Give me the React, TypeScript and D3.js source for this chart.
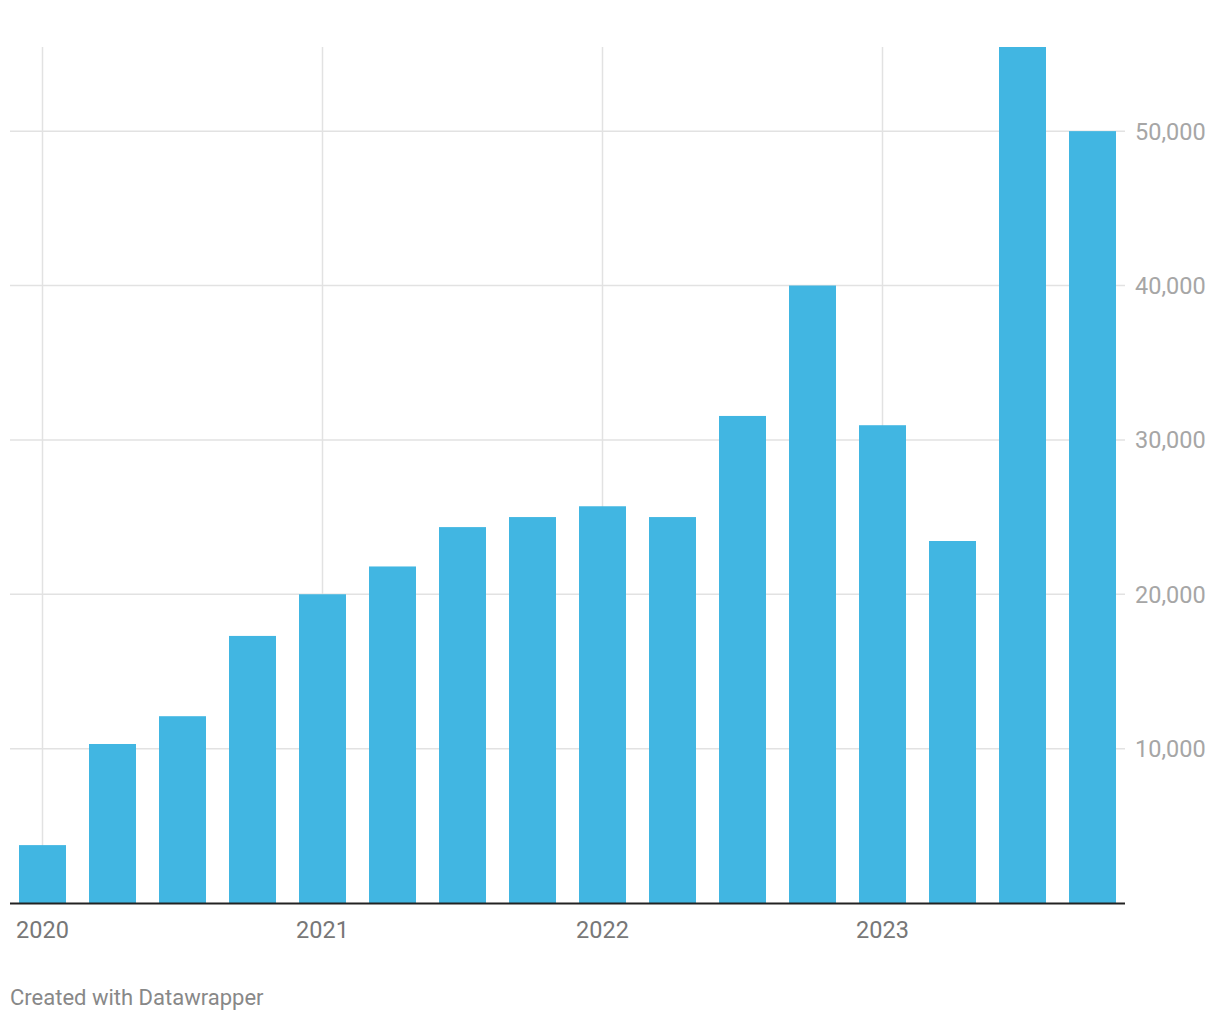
import * as d3 from "d3";

const quarters = [
  "2020 Q1", "2020 Q2", "2020 Q3", "2020 Q4",
  "2021 Q1", "2021 Q2", "2021 Q3", "2021 Q4",
  "2022 Q1", "2022 Q2", "2022 Q3", "2022 Q4",
  "2023 Q1", "2023 Q2", "2023 Q3", "2023 Q4",
];
const values = [
  3750, 10300, 12100, 17300,
  20000, 21800, 24350, 25000,
  25700, 25000, 31550, 40000,
  30950, 23450, 55450, 50000,
];
const yearTicks = ["2020 Q1", "2021 Q1", "2022 Q1", "2023 Q1"];
const yTicks = [10000, 20000, 30000, 40000, 50000];

const App = () => {
  const width = 1220;
  const height = 1020;
  const plotLeft = 10;
  const plotRight = 1125;
  const top = 47;
  const baseline = 903;

  const x = d3
    .scaleBand()
    .domain(quarters)
    .range([plotLeft - 2.5, plotRight + 2.5])
    .paddingInner(23 / 70)
    .paddingOuter(23 / 140);

  const y = d3.scaleLinear().domain([0, 55450]).range([baseline, top]);
  const fmt = d3.format(",");

  return (
    <svg
      width={width}
      height={height}
      style={{ position: "absolute", left: 0, top: 0, fontFamily: "Roboto, sans-serif" }}
    >
      <rect width={width} height={height} fill="#fff" />
      {yTicks.map((t) => (
        <g key={t}>
          <line x1={plotLeft} x2={plotRight} y1={y(t)} y2={y(t)} stroke="#e2e2e2" strokeWidth={1.5} />
          <text x={1135} y={y(t)} dy="0.36em" fontSize={23.5} fill="#a6a6a6">
            {fmt(t)}
          </text>
        </g>
      ))}
      {yearTicks.map((q) => {
        const cx = x(q)! + x.bandwidth() / 2;
        return (
          <g key={q}>
            <line x1={cx} x2={cx} y1={top} y2={baseline} stroke="#e2e2e2" strokeWidth={1.5} />
            <text x={cx} y={938} fontSize={23.5} fill="#777" textAnchor="middle">
              {q.slice(0, 4)}
            </text>
          </g>
        );
      })}
      {quarters.map((q, i) => (
        <rect
          key={q}
          x={x(q)!}
          y={y(values[i])}
          width={x.bandwidth()}
          height={baseline - y(values[i])}
          fill="#41b6e2"
        />
      ))}
      <line x1={plotLeft} x2={plotRight} y1={baseline + 0.5} y2={baseline + 0.5} stroke="#222" strokeWidth={2} />
      <text x={10} y={1005} fontSize={22} fill="#888">
        Created with Datawrapper
      </text>
    </svg>
  );
};

export default App;
